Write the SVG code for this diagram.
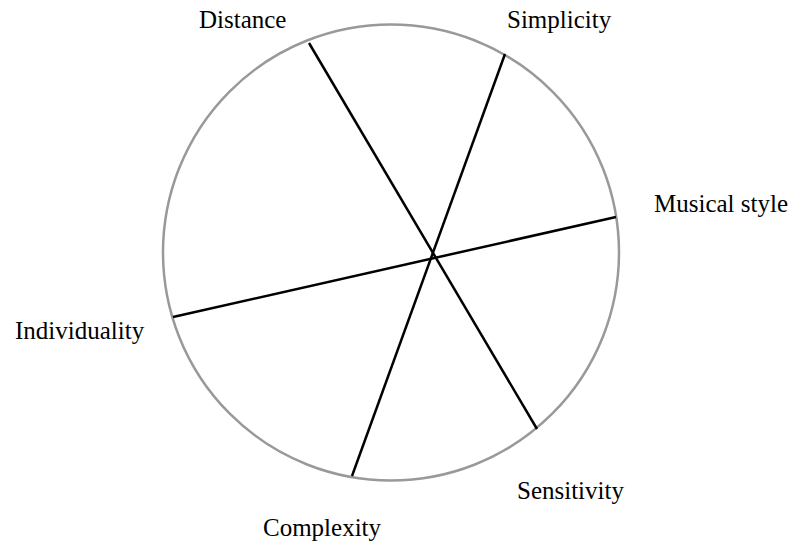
<svg xmlns="http://www.w3.org/2000/svg" width="793" height="542" viewBox="0 0 793 542">
<style>
.lbl{font-family:"Liberation Serif","Times New Roman",serif;font-size:25px;fill:#000}
.spoke{stroke:#000;stroke-width:2.5;fill:none;stroke-linecap:butt}
.rim{stroke:#999;stroke-width:2.5;fill:#fff}
</style>
<rect width="793" height="542" fill="#fff"/>
<g id="wheel"><circle class="rim" cx="391" cy="252.5" r="228"/></g>
<g id="connectors">
<line class="spoke" x1="309" y1="43" x2="537" y2="429"/>
<line class="spoke" x1="505" y1="54" x2="352" y2="476"/>
<line class="spoke" x1="616" y1="217" x2="173" y2="317"/>
</g>
<g id="distance"><text class="lbl" x="199" y="28">Distance</text></g>
<g id="simplicity"><text class="lbl" x="507" y="28">Simplicity</text></g>
<g id="musical-style"><text class="lbl" x="654" y="212">Musical style</text></g>
<g id="individuality"><text class="lbl" x="15" y="339">Individuality</text></g>
<g id="sensitivity"><text class="lbl" x="517" y="499">Sensitivity</text></g>
<g id="complexity"><text class="lbl" x="263" y="536">Complexity</text></g>
</svg>
